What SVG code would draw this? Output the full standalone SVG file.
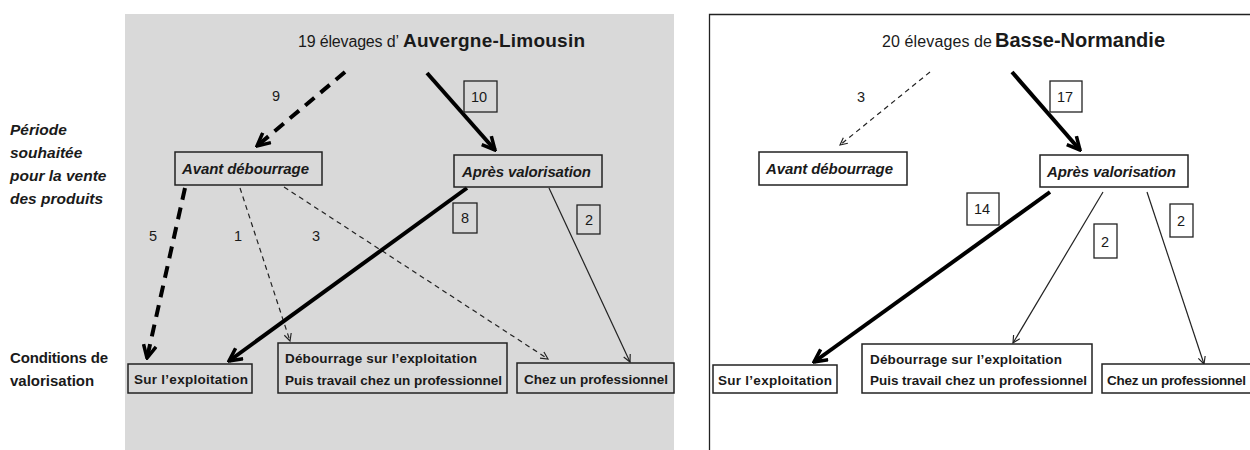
<svg xmlns="http://www.w3.org/2000/svg" width="1250" height="450" viewBox="0 0 1250 450">
<style>
text{font-family:"Liberation Sans",Arial,sans-serif;fill:#1a1a1a}
.box{fill:none;stroke:#222;stroke-width:1.5}
.wbox{fill:#fff;stroke:#222;stroke-width:1.5}
.it{font-style:italic;font-weight:bold;font-size:15px}
.side{font-style:italic;font-weight:bold;font-size:15.5px}
.sideb{font-weight:bold;font-size:15px}
.lb{font-weight:bold;font-size:13.5px}
.num{font-size:14.5px}
.thick{stroke:#000;stroke-width:4;fill:none}
.thickd{stroke:#000;stroke-width:4;fill:none;stroke-dasharray:12 8}
.thin{stroke:#222;stroke-width:1.2;fill:none}
.thind{stroke:#222;stroke-width:1.2;fill:none;stroke-dasharray:5 4}
.nbox{fill:none;stroke:#222;stroke-width:1.3}
</style>
<defs>
<marker id="ah" viewBox="0 0 10 10" refX="9" refY="5" markerWidth="16" markerHeight="16" markerUnits="userSpaceOnUse" orient="auto">
<path d="M1,1 L9,5 L1,9" fill="none" stroke="#000" stroke-width="2.2"/>
</marker>
<marker id="at" viewBox="0 0 10 10" refX="9" refY="5" markerWidth="9" markerHeight="9" markerUnits="userSpaceOnUse" orient="auto">
<path d="M1,1 L9,5 L1,9" fill="none" stroke="#222" stroke-width="1.3"/>
</marker>
</defs>
<rect x="0" y="0" width="1250" height="450" fill="#fff"/>
<rect x="125" y="14" width="549" height="436" fill="#d9d9d9"/>
<path d="M709.5,450 V14.5 H1250" fill="none" stroke="#222" stroke-width="1.3"/>

<g id="side-labels">
<text class="side" x="10" y="135">Période</text>
<text class="side" x="10" y="158">souhaitée</text>
<text class="side" x="10" y="181">pour  la vente</text>
<text class="side" x="10" y="204">des produits</text>
<text class="sideb" x="10" y="363" textLength="98">Conditions  de</text>
<text class="sideb" x="10" y="386">valorisation</text>
</g>

<g id="connectors">
<line class="thickd" x1="345" y1="72" x2="257" y2="146" marker-end="url(#ah)"/>
<line class="thick" x1="427" y1="73" x2="495" y2="150" marker-end="url(#ah)"/>
<line class="thickd" x1="185" y1="188" x2="147" y2="358" marker-end="url(#ah)"/>
<line class="thind" x1="240" y1="188" x2="290" y2="341" marker-end="url(#at)"/>
<line class="thind" x1="284" y1="187" x2="548" y2="359" marker-end="url(#at)"/>
<line class="thick" x1="467" y1="188" x2="229" y2="361" marker-end="url(#ah)"/>
<line class="thin" x1="549" y1="188" x2="630" y2="362" marker-end="url(#at)"/>

<line class="thind" x1="930" y1="72" x2="840" y2="145" marker-end="url(#at)"/>
<line class="thick" x1="1012" y1="72" x2="1080" y2="150" marker-end="url(#ah)"/>
<line class="thick" x1="1050" y1="192" x2="814" y2="362" marker-end="url(#ah)"/>
<line class="thin" x1="1103" y1="192" x2="1013" y2="343" marker-end="url(#at)"/>
<line class="thin" x1="1147" y1="192" x2="1204" y2="364" marker-end="url(#at)"/>
</g>

<g id="edge-labels">
<text class="num" x="272" y="101">9</text>
<rect class="nbox" x="464" y="81" width="33" height="31"/>
<text class="num" x="471" y="102">10</text>
<text class="num" x="149" y="241">5</text>
<text class="num" x="234" y="241">1</text>
<text class="num" x="312" y="241">3</text>
<rect class="nbox" x="453" y="203" width="24" height="30"/>
<text class="num" x="461" y="223">8</text>
<rect class="nbox" x="577" y="205" width="23" height="29"/>
<text class="num" x="585" y="225">2</text>

<text class="num" x="857" y="102">3</text>
<rect class="nbox" x="1050" y="81" width="32" height="31"/>
<text class="num" x="1057" y="102">17</text>
<rect class="nbox" x="967" y="193" width="32" height="32"/>
<text class="num" x="974" y="214">14</text>
<rect class="nbox" x="1094" y="224" width="23" height="34"/>
<text class="num" x="1101" y="247">2</text>
<rect class="nbox" x="1170" y="204" width="23" height="33"/>
<text class="num" x="1177" y="226">2</text>
</g>

<g id="title-al">
<text x="298" y="47" font-size="16" textLength="101">19 élevages d’</text>
<text x="403" y="47" font-size="19" font-weight="bold" textLength="182">Auvergne-Limousin</text>
</g>
<g id="title-bn">
<text x="882" y="47" font-size="16" textLength="110">20 élevages de</text>
<text x="995" y="47" font-size="20" font-weight="bold" textLength="170">Basse-Normandie</text>
</g>

<g id="al-avant">
<rect class="box" x="175" y="152" width="147" height="33"/>
<text class="it" x="182" y="174" textLength="127">Avant débourrage</text>
</g>
<g id="al-apres">
<rect class="box" x="454" y="155" width="148" height="32"/>
<text class="it" x="462" y="177" textLength="129">Après valorisation</text>
</g>
<g id="al-sur">
<rect class="box" x="128" y="364" width="124" height="29"/>
<text class="lb" x="134" y="384" textLength="114">Sur l’exploitation</text>
</g>
<g id="al-deb">
<rect class="box" x="278" y="343" width="229" height="50"/>
<text class="lb" x="285" y="363" textLength="192">Débourrage sur l’exploitation</text>
<text class="lb" x="285" y="385" textLength="217">Puis travail chez un professionnel</text>
</g>
<g id="al-chez">
<rect class="box" x="517" y="363" width="157" height="30"/>
<text class="lb" x="524" y="384" textLength="144">Chez un professionnel</text>
</g>

<g id="bn-avant">
<rect class="wbox" x="759" y="152" width="148" height="33"/>
<text class="it" x="766" y="174" textLength="127">Avant débourrage</text>
</g>
<g id="bn-apres">
<rect class="wbox" x="1040" y="155" width="148" height="32"/>
<text class="it" x="1047" y="177" textLength="129">Après valorisation</text>
</g>
<g id="bn-sur">
<rect class="wbox" x="713" y="365" width="124" height="28"/>
<text class="lb" x="718" y="385" textLength="114">Sur l’exploitation</text>
</g>
<g id="bn-deb">
<rect class="wbox" x="862" y="344" width="230" height="49"/>
<text class="lb" x="870" y="364" textLength="192">Débourrage sur l’exploitation</text>
<text class="lb" x="870" y="385" textLength="217">Puis travail chez un professionnel</text>
</g>
<g id="bn-chez">
<rect class="wbox" x="1102" y="364" width="160" height="29"/>
<text class="lb" x="1107" y="385" textLength="139">Chez un professionnel</text>
</g>
</svg>
